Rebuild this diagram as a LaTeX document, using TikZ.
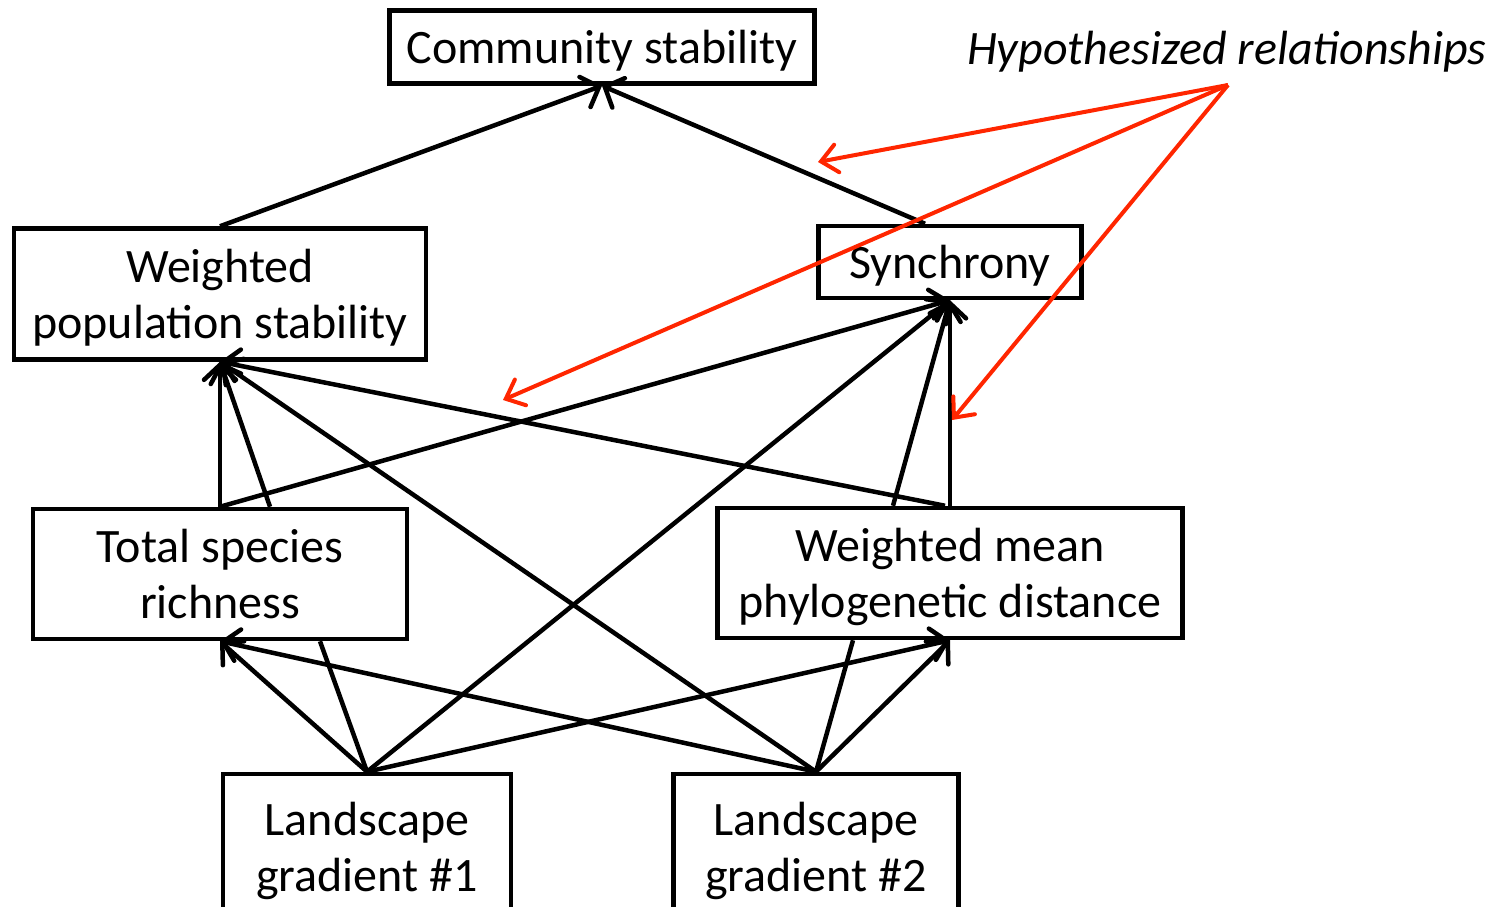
\documentclass[tikz,border=0pt]{standalone}
\usepackage{fontspec}
\setmainfont{Carlito}
\usetikzlibrary{arrows.meta}
\definecolor{hypred}{RGB}{255,38,0}
\tikzset{
  box/.style={draw,line width=4.5pt,inner sep=0pt,text depth=0pt,align=center,font=\fontsize{48}{56}\selectfont},
  plain/.style={line width=4.5pt},
  link/.style={plain,-{Straight Barb[length=15pt,width=32pt,line cap=round]}},
  hyp/.style={hypred,line width=4pt,-{Straight Barb[length=16pt,width=28pt,line cap=round]}}
}
\begin{document}
\begin{tikzpicture}[x=1pt,y=-1pt]
\clip (0,0) rectangle (1510,907);
% boxes
\node[box,minimum width=425pt,minimum height=73pt] (cs) at (602,47) {Community stability};
\node[box,minimum width=412pt,minimum height=131pt] (wps) at (220,294) {Weighted\\population stability};
\node[box,minimum width=263pt,minimum height=72pt] (syn) at (950,262) {Synchrony};
\node[box,minimum width=374pt,minimum height=130pt] (tsr) at (220,574) {Total species\\richness};
\node[box,minimum width=465pt,minimum height=130pt] (mpd) at (950,573) {Weighted mean\\phylogenetic distance};
\node[box,minimum width=288pt,minimum height=146pt] (lg1) at (367,847) {Landscape\\gradient \#1};
\node[box,minimum width=285pt,minimum height=146pt] (lg2) at (816,847) {Landscape\\gradient \#2};
\node[anchor=east,font=\fontsize{48}{56}\selectfont\itshape] (hyp) at (1490,52) {Hypothesized relationships};
% paths
\draw[link] (wps.north) -- (cs.south);
\draw[link] ([xshift=-25pt]syn.north) -- (cs.south);
\draw[link] (tsr.north) -- (wps.south);
\draw[link] ([xshift=50pt]tsr.north) -- (wps.south);
\draw[link] (tsr.north) -- (syn.south);
\draw[link] ([xshift=-57pt]mpd.north) -- (syn.south);
\draw[link] (mpd.north) -- (syn.south);
\draw[link] ([xshift=-5pt]mpd.north) -- (wps.south);
\draw[link] (lg1.north) -- (tsr.south);
\draw[plain] ([xshift=100pt]tsr.south) -- (lg1.north);
\draw[link] (lg1.north) -- (mpd.south);
\draw[link] (lg1.north) -- (syn.south);
\draw[link] (lg2.north) -- (tsr.south);
\draw[link] (lg2.north) -- (wps.south);
\draw[link] (lg2.north) -- (mpd.south);
\draw[plain] ([xshift=-97pt]mpd.south) -- (lg2.north);
% red pointers
\coordinate (hfoot) at (1228,85);
\coordinate (h1) at (818,162);
\coordinate (h2) at (503,400);
\coordinate (h3) at (952,420);
\draw[hyp] (hfoot) -- (h1);
\draw[hyp] (hfoot) -- (h2);
\draw[hyp] (hfoot) -- (h3);
\end{tikzpicture}
\end{document}
